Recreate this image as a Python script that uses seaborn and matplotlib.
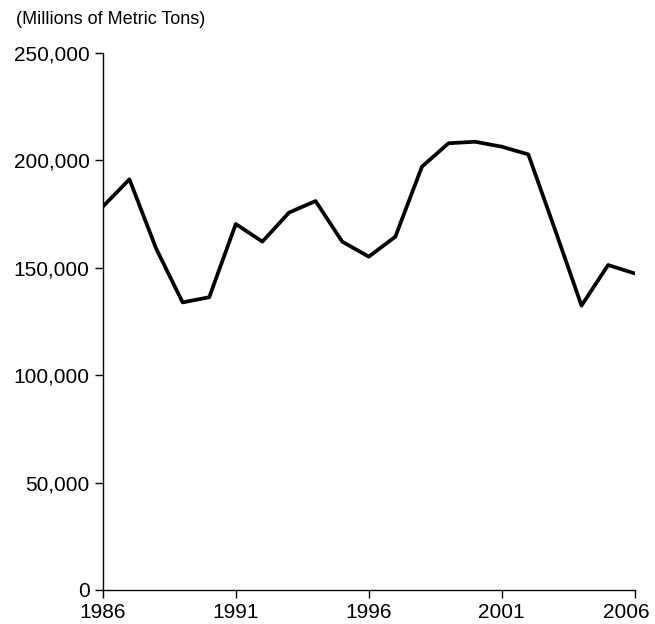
import matplotlib
matplotlib.use("Agg")
import matplotlib.pyplot as plt
import matplotlib.ticker as ticker
import matplotlib.transforms as mtransforms
import pandas as pd
import seaborn as sns

years = list(range(1986, 2007))
tons = [
    178500, 191200, 159100, 133900, 136300, 170400, 162200, 175700,
    181100, 162200, 155200, 164500, 197100, 208000, 208700, 206400,
    202800, 167900, 132400, 151300, 147400,
]

df = pd.DataFrame({"year": years, "tons": tons})

sns.set_style("ticks")
plt.rcParams["font.family"] = ["Liberation Sans", "DejaVu Sans"]

fig = plt.figure(figsize=(6.55, 6.24), dpi=100)
ax = fig.add_axes([0.157, 0.0545, 0.812, 0.8605])

sns.lineplot(data=df, x="year", y="tons", color="black", lw=2.7, ax=ax)

ax.set_xlim(1986, 2006)
ax.set_ylim(0, 250000)
ax.set_xticks([1986, 1991, 1996, 2001, 2006])
ax.set_yticks(range(0, 250001, 50000))
ax.yaxis.set_major_formatter(ticker.FuncFormatter(lambda v, p: f"{int(v):,}"))
ax.tick_params(labelsize=15, length=6, width=1, color="black", labelcolor="black")
ax.set_xlabel("")
ax.set_ylabel("")
for s in ["left", "bottom"]:
    ax.spines[s].set_color("black")
    ax.spines[s].set_linewidth(1)
sns.despine(ax=ax)

# last year label sits a bit left so it stays inside the figure
last = ax.get_xticklabels()[-1]
last.set_transform(last.get_transform() + mtransforms.ScaledTranslation(-8 / 100, 0, fig.dpi_scale_trans))

fig.text(16 / 655, 1 - 20 / 624, "(Millions of Metric Tons)", fontsize=13,
         ha="left", va="center", color="black")

fig.savefig("out.png", dpi=100)
